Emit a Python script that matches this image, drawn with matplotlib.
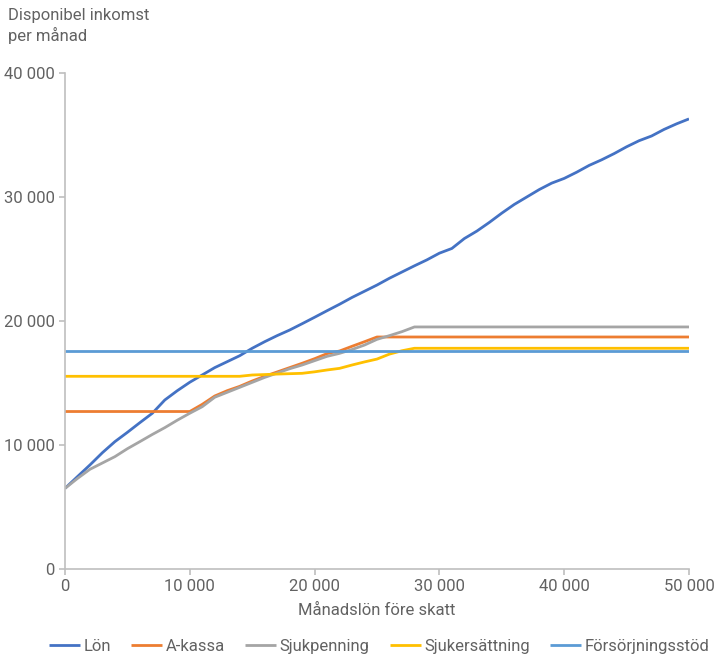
import matplotlib.pyplot as plt
import matplotlib.ticker as mticker
import numpy as np

# månadslön före skatt, steg om 1000 kr
salary = np.arange(0, 51000, 1000)

lon = [6500, 7450, 8390, 9380, 10270, 11020, 11800, 12560, 13630, 14380,
       15060, 15650, 16240, 16720, 17200, 17800, 18330, 18820, 19270, 19780,
       20300, 20830, 21350, 21900, 22400, 22900, 23450, 23950, 24450, 24930,
       25470, 25850, 26650, 27250, 27950, 28700, 29400, 30000, 30600, 31120,
       31500, 32000, 32550, 33000, 33500, 34050, 34540, 34920, 35450, 35900,
       36300]
a_kassa = [12700] * 11 + [13280, 13950, 14380, 14730, 15160, 15540, 15890,
                          16240, 16590, 16960, 17370, 17580, 17960, 18330] \
    + [18710] * 26
sjukpenning = [6500, 7300, 8040, 8550, 9060, 9700, 10270, 10850, 11400, 12000,
               12560, 13090, 13850, 14250, 14650, 15050, 15450, 15800, 16150,
               16450, 16800, 17150, 17390, 17700, 18060, 18520, 18820, 19140] \
    + [19520] * 23
sjukersattning = [15540] * 15 + [15645, 15680, 15720, 15750, 15780, 15900,
                                 16050, 16180, 16450, 16700, 16930, 17330,
                                 17600] + [17800] * 23
forsorjningsstod = [17560] * 51

series = [
    ("Lön", lon, "#4472C4"),
    ("A-kassa", a_kassa, "#ED7D31"),
    ("Sjukpenning", sjukpenning, "#A5A5A5"),
    ("Sjukersättning", sjukersattning, "#FFC000"),
    ("Försörjningsstöd", forsorjningsstod, "#5B9BD5"),
]

plt.rcParams['font.family'] = ['Roboto', 'DejaVu Sans']
text_color = "#626262"

fig = plt.figure(figsize=(7.18, 6.59), dpi=100)
ax = fig.add_axes([0.0905, 0.1366, 0.8691, 0.7526])

for name, values, color in series:
    ax.plot(salary, values, color=color, lw=2.0, label=name,
            solid_capstyle='butt')

ax.set_xlim(0, 50000)
ax.set_ylim(0, 40000)
ax.xaxis.set_major_locator(mticker.MultipleLocator(10000))
ax.yaxis.set_major_locator(mticker.MultipleLocator(10000))
fmt = mticker.FuncFormatter(lambda v, p: f"{int(v):,}".replace(",", " "))
ax.xaxis.set_major_formatter(fmt)
ax.yaxis.set_major_formatter(fmt)

for side in ("top", "right"):
    ax.spines[side].set_visible(False)
for side in ("left", "bottom"):
    ax.spines[side].set_color("#BFBFBF")
    ax.spines[side].set_linewidth(1.2)
ax.tick_params(colors="#BFBFBF", labelcolor=text_color, labelsize=12,
               length=4, width=1.2)

ax.set_xlabel("Månadslön före skatt", color=text_color, fontsize=12,
              labelpad=6)
fig.text(0.011, 0.988, "Disponibel inkomst\nper månad", color=text_color,
         fontsize=12, va="top", ha="left", linespacing=1.3)

fig.legend(loc="center", bbox_to_anchor=(0.528, 0.019), ncol=5,
           frameon=False, fontsize=12, labelcolor=text_color,
           handlelength=1.85, handletextpad=0.22, columnspacing=1.22)

fig.savefig("out.png", dpi=100)
